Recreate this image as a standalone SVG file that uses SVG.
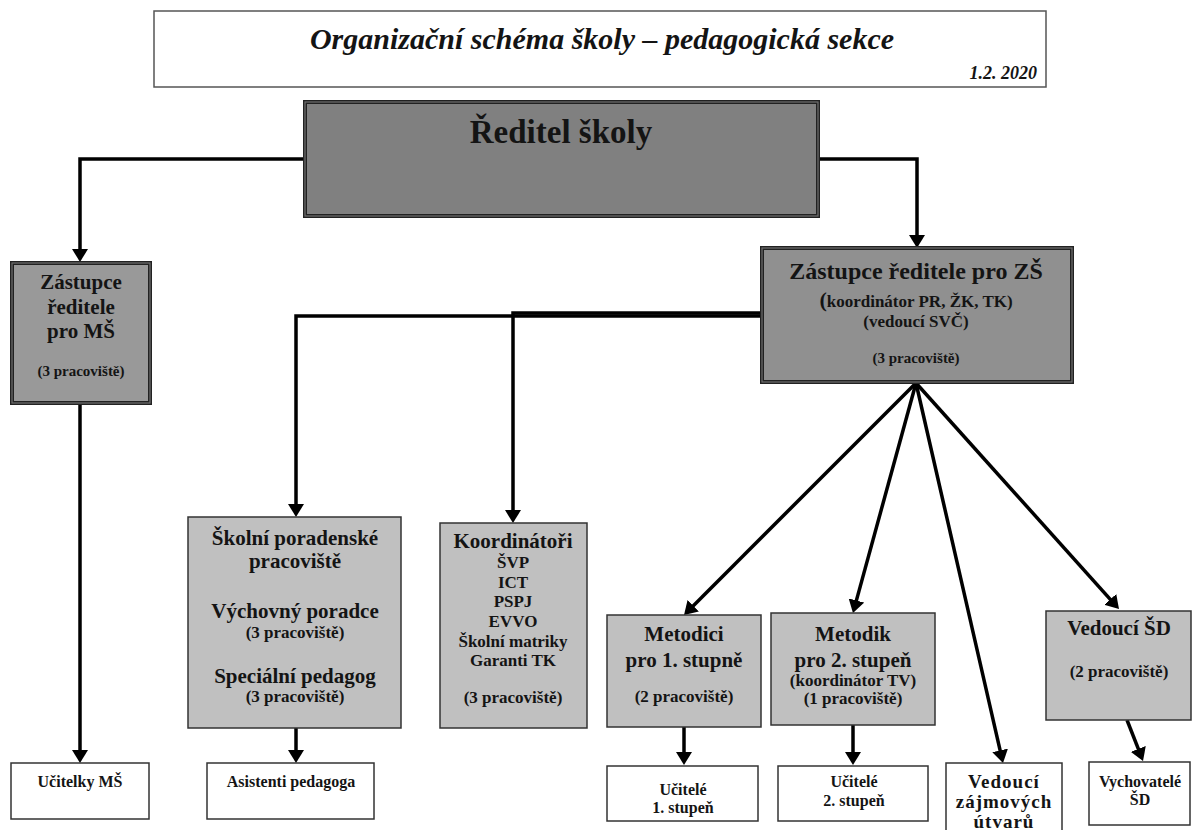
<svg xmlns="http://www.w3.org/2000/svg" width="1193" height="830" viewBox="0 0 1193 830">
<style>
text{font-family:'Liberation Serif',Tinos,'Times New Roman','DejaVu Serif',serif;font-weight:700;fill:#141414;text-anchor:middle}
.t21{font-size:21px}
.t17{font-size:17px}
.t16{font-size:16px}
.t15{font-size:15px}
.dark{stroke:#222;stroke-width:4}
.darkin{fill:none;stroke:#707070;stroke-width:1.2}
.lite{fill:#c0c0c0;stroke:#333;stroke-width:1.5}
.wbox{fill:#fff;stroke:#333;stroke-width:1.5}
.conn{fill:none;stroke:#000;stroke-width:3.5}
</style>
<defs>
<marker id="ah" markerWidth="14" markerHeight="16" refX="3" refY="8" orient="auto" markerUnits="userSpaceOnUse"><path d="M0,0 L13,8 L0,16 z" fill="#000"/></marker>
</defs>
<g id="title">
<rect x="154" y="11" width="892" height="76" fill="#fff" stroke="#555" stroke-width="1.5"/>
<text x="602" y="49" font-family="Liberation Serif, serif" style="font-size:30px;font-style:italic">Organizační schéma školy – pedagogická sekce</text>
<text x="1037" y="79" style="font-size:18px;font-style:italic;text-anchor:end">1.2. 2020</text>
</g>
<g id="connectors">
<path class="conn" d="M305,159 H80 V252" marker-end="url(#ah)"/>
<path class="conn" d="M818,159 H917 V238" marker-end="url(#ah)"/>
<path class="conn" d="M762,316 H296 V507" marker-end="url(#ah)"/>
<path class="conn" d="M762,313 H513 V513" marker-end="url(#ah)"/>
<path class="conn" d="M80,403 V753" marker-end="url(#ah)"/>
<path class="conn" d="M296,728 V753" marker-end="url(#ah)"/>
<path class="conn" d="M916,383 L691.1,607.9" marker-end="url(#ah)"/>
<path class="conn" d="M916,383 L855.6,603.4" marker-end="url(#ah)"/>
<path class="conn" d="M916,383 L1000.8,753.3" marker-end="url(#ah)"/>
<path class="conn" d="M916,383 L1112.3,601.6" marker-end="url(#ah)"/>
<path class="conn" d="M684,727 V755" marker-end="url(#ah)"/>
<path class="conn" d="M853,725 V755" marker-end="url(#ah)"/>
<path class="conn" d="M1127,720 L1139.4,751.7" marker-end="url(#ah)"/>
</g>
<g id="reditel">
<rect x="305" y="102" width="513" height="114" fill="#808080" class="dark"/>
<rect x="305" y="102" width="513" height="114" class="darkin"/>
<text x="561" y="143" style="font-size:33px">Ředitel školy</text>
</g>
<g id="zastupce_ms">
<rect x="12" y="263" width="138" height="140" fill="#999" class="dark"/>
<rect x="12" y="263" width="138" height="140" class="darkin"/>
<text class="t21" x="81" y="289">Zástupce</text>
<text class="t21" x="81" y="314">ředitele</text>
<text class="t21" x="81" y="338">pro MŠ</text>
<text class="t15" x="81" y="376">(3 pracoviště)</text>
</g>
<g id="zastupce_zs">
<rect x="762" y="248" width="310" height="134" fill="#909090" class="dark"/>
<rect x="762" y="248" width="310" height="134" class="darkin"/>
<text x="916" y="279" style="font-size:24px">Zástupce ředitele pro ZŠ</text>
<text class="t17" x="916" y="307"><tspan style="font-size:22px">(</tspan>koordinátor PR, ŽK, TK)</text>
<text class="t17" x="916" y="327">(vedoucí SVČ)</text>
<text class="t15" x="916" y="363">(3 pracoviště)</text>
</g>
<g id="skolni_poradenske">
<rect x="188" y="517" width="213" height="211" class="lite"/>
<text class="t21" x="295" y="545">Školní poradenské</text>
<text class="t21" x="295" y="568">pracoviště</text>
<text class="t21" x="295" y="618">Výchovný poradce</text>
<text class="t17" x="295" y="638">(3 pracoviště)</text>
<text class="t21" x="295" y="683">Speciální pedagog</text>
<text class="t17" x="295" y="702">(3 pracoviště)</text>
</g>
<g id="koordinatori">
<rect x="440" y="523" width="147" height="205" class="lite"/>
<text class="t21" x="513" y="548">Koordinátoři</text>
<text class="t17" x="513" y="568">ŠVP</text>
<text class="t17" x="513" y="588">ICT</text>
<text class="t17" x="513" y="607">PSPJ</text>
<text class="t17" x="513" y="627">EVVO</text>
<text class="t17" x="513" y="647">Školní matriky</text>
<text class="t17" x="513" y="666">Garanti TK</text>
<text class="t17" x="513" y="703">(3 pracoviště)</text>
</g>
<g id="metodici">
<rect x="607" y="615" width="154" height="112" class="lite"/>
<text class="t21" x="684" y="641">Metodici</text>
<text class="t21" x="684" y="667">pro 1. stupně</text>
<text class="t17" x="684" y="702">(2 pracoviště)</text>
</g>
<g id="metodik">
<rect x="771" y="613" width="164" height="112" class="lite"/>
<text class="t21" x="853" y="641">Metodik</text>
<text class="t21" x="853" y="667">pro 2. stupeň</text>
<text class="t17" x="853" y="686">(koordinátor TV)</text>
<text class="t17" x="853" y="704">(1 pracoviště)</text>
</g>
<g id="vedouci_sd">
<rect x="1046" y="611" width="145" height="109" class="lite"/>
<text class="t21" x="1119" y="635">Vedoucí ŠD</text>
<text class="t17" x="1119" y="677">(2 pracoviště)</text>
</g>
<g id="ucitelky_ms">
<rect x="11" y="763" width="138" height="56" class="wbox"/>
<text class="t16" x="80" y="787">Učitelky MŠ</text>
</g>
<g id="asistenti">
<rect x="207" y="763" width="167" height="56" class="wbox"/>
<text class="t16" x="291" y="787">Asistenti pedagoga</text>
</g>
<g id="ucitele1">
<rect x="607" y="766" width="151" height="55" class="wbox"/>
<text class="t16" x="683" y="795">Učitelé</text>
<text class="t16" x="683" y="813">1. stupeň</text>
</g>
<g id="ucitele2">
<rect x="778" y="766" width="150" height="55" class="wbox"/>
<text class="t16" x="854" y="787">Učitelé</text>
<text class="t16" x="854" y="806">2. stupeň</text>
</g>
<g id="vedouci_zajmovych">
<rect x="946" y="763" width="116" height="80" class="wbox"/>
<text x="1004" y="788" style="font-size:19px;letter-spacing:1px">Vedoucí</text>
<text x="1004" y="808" style="font-size:19px;letter-spacing:1px">zájmových</text>
<text x="1004" y="828" style="font-size:19px;letter-spacing:1px">útvarů</text>
</g>
<g id="vychovatele">
<rect x="1089" y="762" width="101" height="63" class="wbox"/>
<text class="t16" x="1140" y="787">Vychovatelé</text>
<text class="t16" x="1140" y="805">ŠD</text>
</g>
</svg>
